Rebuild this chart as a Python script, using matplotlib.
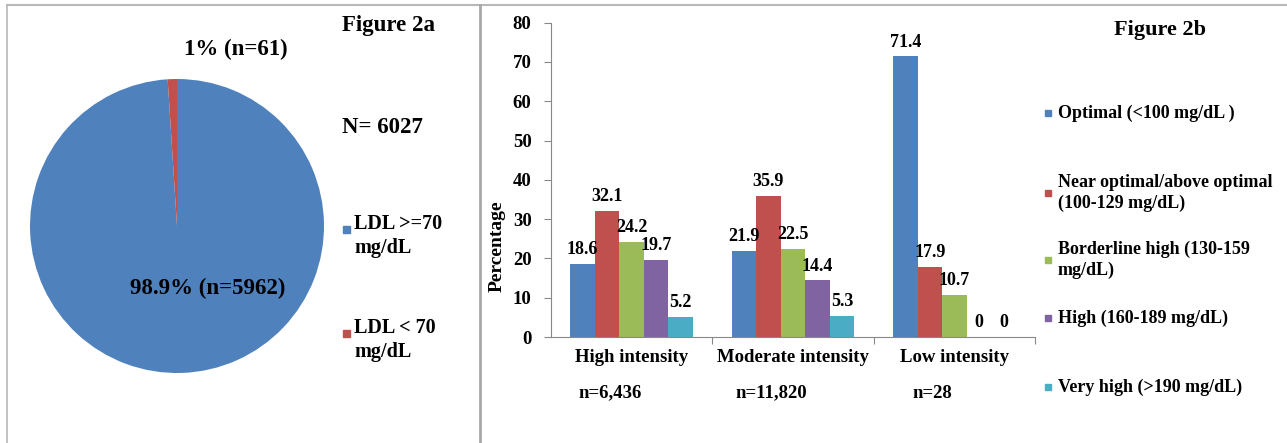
import numpy as np
import matplotlib.pyplot as plt
from matplotlib.lines import Line2D

plt.rcParams['font.family'] = ['Liberation Serif', 'DejaVu Serif']
plt.rcParams['font.weight'] = 'bold'
plt.rcParams['axes.labelweight'] = 'bold'

# Figure 2a data
pie_labels = ['LDL >=70\nmg/dL', 'LDL < 70\nmg/dL']
pie_counts = [5962, 61]
pie_texts = ['98.9% (n=5962)', '1% (n=61)']
pie_total = 'N= 6027'

# Figure 2b data
groups = ['High intensity', 'Moderate intensity', 'Low intensity']
group_n = ['n=6,436', 'n=11,820', 'n=28']
series = ['Optimal (<100 mg/dL )', 'Near optimal/above optimal\n(100-129 mg/dL)',
          'Borderline high (130-159\nmg/dL)', 'High (160-189 mg/dL)',
          'Very high (>190 mg/dL)']
optimal = [18.6, 21.9, 71.4]
near_optimal = [32.1, 35.9, 17.9]
borderline = [24.2, 22.5, 10.7]
high = [19.7, 14.4, 0]
very_high = [5.2, 5.3, 0]

colors = ['#4F81BD', '#C0504D', '#9BBB59', '#8064A2', '#4BACC6']
pie_colors = ['#4F81BD', '#C0504D']

W, H = 1287, 443
fig = plt.figure(figsize=(W / 100, H / 100), dpi=100)

def px(x, y):
    return x / W, 1 - y / H

# panel frames
frame = '#b8b8b8'
fig.add_artist(Line2D([7 / W, 1], [1 - 4.5 / H] * 2, color=frame, lw=1.5, transform=fig.transFigure))
fig.add_artist(Line2D([7 / W] * 2, [0, 1 - 4.5 / H], color=frame, lw=1.2, transform=fig.transFigure))
fig.add_artist(Line2D([480 / W] * 2, [0, 1 - 4.5 / H], color='#a8a8a8', lw=2, transform=fig.transFigure))

# ---- pie ----
cx, cy, r = 177, 226, 147
ax1 = fig.add_axes([(cx - r) / W, 1 - (cy + r) / H, 2 * r / W, 2 * r / H])
ax1.pie(pie_counts, colors=pie_colors, startangle=90, counterclock=False,
        wedgeprops=dict(edgecolor='none'))
ax1.set_xlim(-1, 1)
ax1.set_ylim(-1, 1)
ax1.set_aspect('equal')
ax1.axis('off')

fig.text(*px(208, 288), pie_texts[0], ha='center', va='center', fontsize=16.5)
fig.text(*px(236, 49), pie_texts[1], ha='center', va='center', fontsize=16.5)
fig.text(*px(388, 26), 'Figure 2a', ha='center', va='center', fontsize=16.5)
fig.text(*px(382, 128), pie_total, ha='center', va='center', fontsize=16.5)
for i, (lab, yy) in enumerate(zip(pie_labels, [236, 340])):
    fig.patches.append(plt.Rectangle(px(343, yy - 10 + 7), 7 / W, 7 / H,
                                     color=pie_colors[i], transform=fig.transFigure))
    fig.text(*px(354, yy), lab, ha='left', va='center', fontsize=14.5, linespacing=1.25)

# ---- bars ----
ax2 = fig.add_axes([551 / W, 1 - 337 / H, (1035 - 551) / W, (337 - 22.7) / H])
x = np.arange(len(groups))
bw = 0.152
all_series = [optimal, near_optimal, borderline, high, very_high]
for i, vals in enumerate(all_series):
    pos = x + (i - 2) * bw
    ax2.bar(pos, vals, bw, color=colors[i], label=series[i])
    for xp, v in zip(pos, vals):
        lab = '0' if v == 0 else f'{v:.1f}'
        ax2.text(xp, v + 1.5, lab, ha='center', va='bottom', fontsize=13)

ax2.set_xlim(-0.5, 2.5)
ax2.set_ylim(0, 80)
ax2.set_yticks(range(0, 81, 10))
ax2.set_xticks([0.5, 1.5, 2.5])
ax2.set_xticklabels([])
ax2.tick_params(axis='x', length=5, color='#888888')
ax2.tick_params(axis='y', length=5, color='#888888', labelsize=13.5, pad=9)
for s in ['top', 'right']:
    ax2.spines[s].set_visible(False)
ax2.spines['left'].set_color('#888888')
ax2.spines['bottom'].set_color('#888888')
ax2.set_ylabel('Percentage', fontsize=14, fontweight='bold', va='center')
ax2.yaxis.set_label_coords(-0.112, 0.29)

for i, (g, n) in enumerate(zip(groups, group_n)):
    gx = 551 + (i + 0.5) * (1035 - 551) / 3
    fig.text(*px(gx, 358), g, ha='center', va='center', fontsize=13.5)
    fig.text(*px(gx - 22, 393), n, ha='center', va='center', fontsize=13.5)

fig.text(*px(1160, 30), 'Figure 2b', ha='center', va='center', fontsize=16)
leg_y = [113, 193, 260, 318, 387]
for i, (lab, yy) in enumerate(zip(series, leg_y)):
    fig.patches.append(plt.Rectangle(px(1045, yy + 3), 6 / W, 6 / H,
                                     color=colors[i], transform=fig.transFigure))
    fig.text(*px(1058, yy), lab, ha='left', va='center', fontsize=13, linespacing=1.3)

fig.savefig('out.png', dpi=100)
